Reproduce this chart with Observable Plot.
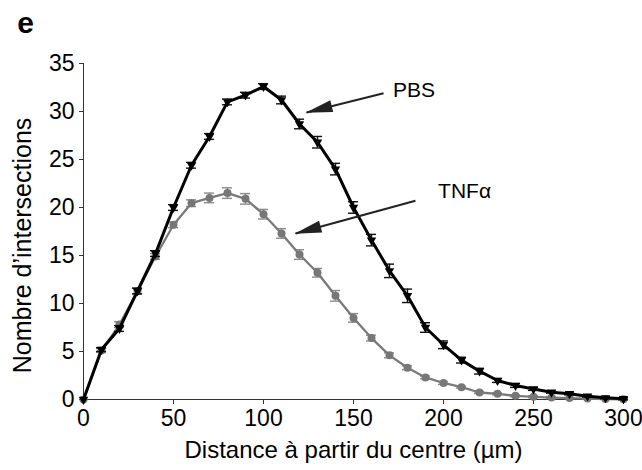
<!DOCTYPE html>
<html><head><meta charset="utf-8">
<script src="https://cdn.jsdelivr.net/npm/d3@7"></script>
<script src="https://cdn.jsdelivr.net/npm/@observablehq/plot@0.6"></script>
<style>body{margin:0;background:#fff}</style>
</head><body><div id="chart"></div>
<script>
const distance = [0,10,20,30,40,50,60,70,80,90,100,110,120,130,140,150,160,170,180,190,200,210,220,230,240,250,260,270,280,290,300];
const pbsMean = [0,5.2,7.4,11.3,15.2,20.0,24.4,27.4,31.0,31.7,32.6,31.2,28.7,26.8,24.0,20.0,16.6,13.4,10.8,7.5,5.7,4.1,2.95,1.98,1.46,1.1,0.76,0.59,0.35,0.17,0.07];
const pbsErr  = [0,0.2,0.3,0.3,0.3,0.3,0.3,0.3,0.3,0.3,0.3,0.4,0.5,0.6,0.6,0.6,0.6,0.7,0.7,0.5,0.4,0.3,0.3,0.2,0.2,0.15,0.1,0.1,0.1,0.1,0.1];
const tnfMean = [0,5.1,7.8,11.3,14.9,18.2,20.45,21.0,21.5,20.9,19.3,17.3,15.1,13.2,10.8,8.5,6.4,4.6,3.3,2.3,1.72,1.28,0.73,0.59,0.38,0.28,0.2,0.15,0.1,0.05,0.02];
const tnfErr  = [0,0.2,0.3,0.3,0.3,0.3,0.35,0.5,0.55,0.55,0.5,0.5,0.5,0.45,0.55,0.45,0.3,0.25,0.2,0.15,0.15,0.1,0.1,0.1,0.1,0.1,0.1,0.05,0.05,0.05,0.05];
const xTicks = [0,50,100,150,200,250,300];
const yTicks = [0,5,10,15,20,25,30,35];
const xLabel = "Distance à partir du centre (µm)";
const yLabel = "Nombre d\u2019intersections";
const panelLetter = "e";
const annotLabels = ["PBS","TNFα"];
const annotX = [172,197];
const annotY = [32.2,21.7];
const arrowX1 = [166.7,184.4], arrowY1 = [31.9,20.7];
const arrowX2 = [123.9,117.8], arrowY2 = [29.9,17.3];

const pbs = distance.map((x,i)=>({x, y:pbsMean[i], e:pbsErr[i]}));
const tnf = distance.map((x,i)=>({x, y:tnfMean[i], e:tnfErr[i]}));
const arrows = annotLabels.map((l,i)=>({x1:arrowX1[i],y1:arrowY1[i],x2:arrowX2[i],y2:arrowY2[i]}));
const annots = annotLabels.map((l,i)=>({label:l,x:annotX[i],y:annotY[i]}));

function filledHead(color, context) {
  const doc = (context && context.document) || document;
  const ns = "http://www.w3.org/2000/svg";
  const m = doc.createElementNS(ns, "marker");
  m.setAttribute("viewBox","-27 -7 28 14");
  m.setAttribute("markerWidth","28");
  m.setAttribute("markerHeight","14");
  m.setAttribute("markerUnits","userSpaceOnUse");
  m.setAttribute("orient","auto");
  m.setAttribute("refX","0");
  m.setAttribute("refY","0");
  const p = doc.createElementNS(ns,"path");
  p.setAttribute("d","M1,0L-26,-6L-26,6Z");
  p.setAttribute("fill", color);
  p.setAttribute("stroke","none");
  m.appendChild(p);
  return m;
}

function errMarks(data, color, w) {
  const d = data.filter(v=>v.e>0);
  return [
    Plot.ruleX(d, {x:"x", y1:v=>v.y-v.e, y2:v=>v.y+v.e, stroke:color, strokeWidth:w}),
    Plot.ruleY(d, {y:v=>v.y+v.e, x1:v=>v.x-2.8, x2:v=>v.x+2.8, stroke:color, strokeWidth:w}),
    Plot.ruleY(d, {y:v=>v.y-v.e, x1:v=>v.x-2.8, x2:v=>v.x+2.8, stroke:color, strokeWidth:w})
  ];
}

const chart = Plot.plot({
  width: 642, height: 470,
  marginLeft: 83, marginRight: 19, marginTop: 63, marginBottom: 71,
  style: {fontFamily: "'Liberation Sans', Arial, sans-serif", fontSize: "23px", color: "#000", background: "#fff", overflow: "visible"},
  x: {domain: [0,300]},
  y: {domain: [0,35]},
  marks: [
    Plot.axisX({ticks: xTicks, tickSize: 5, tickPadding: 5, label: null, stroke: "#333", fontSize: 23}),
    Plot.axisY({ticks: yTicks, tickSize: 4, tickPadding: 5, label: null, stroke: "#333", fontSize: 23}),
    Plot.ruleX([0], {y1: 0, y2: 35, stroke: "#333"}),
    Plot.ruleY([0], {x1: 0, x2: 300, stroke: "#333"}),
    ...errMarks(tnf, "#8a8a8a", 1.4),
    Plot.line(tnf, {x:"x", y:"y", stroke:"#7a7a7a", strokeWidth:2.3}),
    Plot.dot(tnf, {x:"x", y:"y", r:4, fill:"#777", stroke:"none"}),
    ...errMarks(pbs, "#111", 1.4),
    Plot.line(pbs, {x:"x", y:"y", stroke:"#000", strokeWidth:3}),
    Plot.dot(pbs, {x:"x", y:"y", symbol:"triangle2", rotate:180, r:4.5, fill:"#000", stroke:"none"}),
    Plot.link(arrows, {x1:"x1", y1:"y1", x2:"x2", y2:"y2", stroke:"#222", strokeWidth:2, markerEnd: filledHead}),
    Plot.text(annots, {x:"x", y:"y", text:"label", textAnchor:"start", lineAnchor:"middle", fontSize:21, fill:"#000"}),
    Plot.text([xLabel], {frameAnchor:"bottom", dy: 51, textAnchor:"middle", lineAnchor:"middle", fontSize:24, fill:"#000"}),
    Plot.text([yLabel], {frameAnchor:"left", rotate:-90, dx:-61, dy:14, textAnchor:"middle", lineAnchor:"middle", fontSize:25, fill:"#000"}),
    Plot.text([panelLetter], {frameAnchor:"top-left", dx:-58, dy:-31, lineAnchor:"bottom", textAnchor:"middle", fontSize:30, fontWeight:"bold", fill:"#000"})
  ]
});
document.getElementById("chart").appendChild(chart);
</script>
</body></html>
